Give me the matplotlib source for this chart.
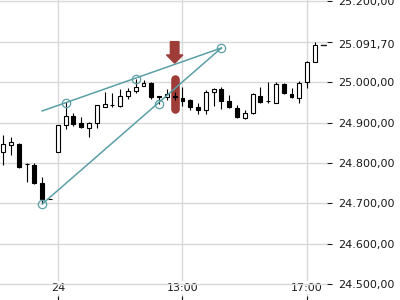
import matplotlib
matplotlib.use("Agg")
import matplotlib.pyplot as plt
from matplotlib.ticker import FuncFormatter

# 10-minute candles, index 0..40
opens = [24827, 24845, 24847, 24798, 24795, 24750, 24711, 24828, 24893, 24916,
         24899, 24887, 24899, 24938, 24944, 24942, 24966, 24978, 24990, 24998,
         24965, 24962, 24966, 24960, 24956, 24938, 24931, 24976, 24983, 24953,
         24936, 24911, 24924, 24966, 24953, 24948, 24995, 24971, 24961, 25000, 25050]
closes = [24847, 24852, 24790, 24797, 24751, 24711, 24711, 24894, 24916, 24896,
          24889, 24899, 24943, 24946, 24943, 24966, 24978, 24988, 24998, 24963,
          24963, 24971, 24963, 24952, 24938, 24931, 24976, 24983, 24953, 24938,
          24914, 24924, 24971, 24951, 24953, 24995, 24973, 24963, 24998, 25050, 25091.7]
highs = [24869, 24864, 24849, 24801, 24801, 24765, 24712, 24895, 24950, 24924,
         24914, 24901, 24944, 24976, 24972, 24982, 24986, 25008, 25006, 24999,
         24966, 24982, 24976, 24987, 24957, 24948, 24981, 24986, 24988, 24968,
         24943, 24931, 24973, 24988, 24999, 25000, 24998, 24986, 25003, 25051, 25099]
lows = [24795, 24820, 24788, 24754, 24748, 24700, 24710, 24827, 24884, 24892,
        24887, 24864, 24887, 24938, 24938, 24939, 24958, 24973, 24990, 24958,
        24946, 24956, 24955, 24941, 24931, 24921, 24921, 24941, 24934, 24936,
        24911, 24909, 24921, 24948, 24949, 24948, 24971, 24961, 24948, 24986, 25049]

# trendlines and pivot points
upper_idx = [5, 28]
upper_val = [24928.6, 25084.4]
lower_idx = [5, 28]
lower_val = [24698.5, 25084.4]
pivot_idx = [5, 8, 17, 20, 28]
pivot_val = [24698.5, 24949, 25008.5, 24945, 25084.4]

# signal marker (arrow + bar) on one candle
signal_idx = 22
arrow_top, arrow_tip = 25100, 25046.6
bar_top, bar_bottom = 25007.7, 24932.8

xtick_pos = [7, 23, 39]
xtick_labels = ["24", "13:00", "17:00"]
ytick_vals = [24500, 24600, 24700, 24800, 24900, 25000, 25100, 25200]
hidden_tick = 25100

teal = "#5b9fa6"
red = "#9e3d38"
txt = "#1a1a1a"


def fmt_de(v):
    s = f"{v:,.2f}"
    return s.replace(",", "X").replace(".", ",").replace("X", ".")


fig = plt.figure(figsize=(4, 3), dpi=100)
ax = fig.add_axes([0, 0, 327 / 400, 1])
ax.set_xlim(-0.42, 41.55)
ax.set_ylim(24461, 25203)

for s in ax.spines.values():
    s.set_visible(False)

ax.grid(True, color="#d9d9d9", linewidth=1, zorder=0)
ax.set_axisbelow(True)

# signal
ax.arrow(signal_idx, arrow_top, 0, arrow_tip - arrow_top, width=1.1, head_width=2.1,
         head_length=20.5, length_includes_head=True, color=red, zorder=2)
ax.plot([signal_idx, signal_idx], [bar_top, bar_bottom], color=red, linewidth=6.2,
        solid_capstyle="round", zorder=2)

# candles
xs = list(range(len(opens)))
ax.vlines(xs, lows, highs, color="black", linewidth=0.8, zorder=3)
for i in xs:
    o, c = opens[i], closes[i]
    fc = "white" if c > o else "black"
    ax.bar(i, abs(c - o), bottom=min(o, c), width=0.5, facecolor=fc,
           edgecolor="black", linewidth=0.8, zorder=4)

# trendlines
ax.plot(upper_idx, upper_val, color=teal, linewidth=1.1, zorder=5)
ax.plot(lower_idx, lower_val, color=teal, linewidth=1.1, zorder=5)
ax.plot(pivot_idx, pivot_val, linestyle="none", marker="o", markersize=6,
        markerfacecolor="none", markeredgecolor=teal, markeredgewidth=0.9, zorder=6)

# last price marker
last = closes[-1]
ax.axhline(last, xmin=321 / 327, xmax=326 / 327, color=txt, linewidth=1, zorder=6)

ax.yaxis.tick_right()
ax.set_yticks(ytick_vals)
ax.yaxis.set_major_formatter(FuncFormatter(lambda v, p: "" if v == hidden_tick else fmt_de(v)))
ax.tick_params(axis="y", direction="out", length=3.6, width=0.8, pad=4.3,
               labelsize=8, colors=txt)
ax.text(1 + 11 / 327, last, fmt_de(last), transform=ax.get_yaxis_transform(),
        ha="left", va="center", fontsize=8, color=txt)

ax.set_xticks(xtick_pos)
ax.set_xticklabels(xtick_labels)
ax.tick_params(axis="x", direction="in", length=3, width=0.8, pad=-12.5,
               labelsize=8, colors=txt)
for lbl in ax.get_xticklabels():
    lbl.set_bbox(dict(facecolor="white", edgecolor="none", pad=1))

fig.savefig("out.png", dpi=100)
